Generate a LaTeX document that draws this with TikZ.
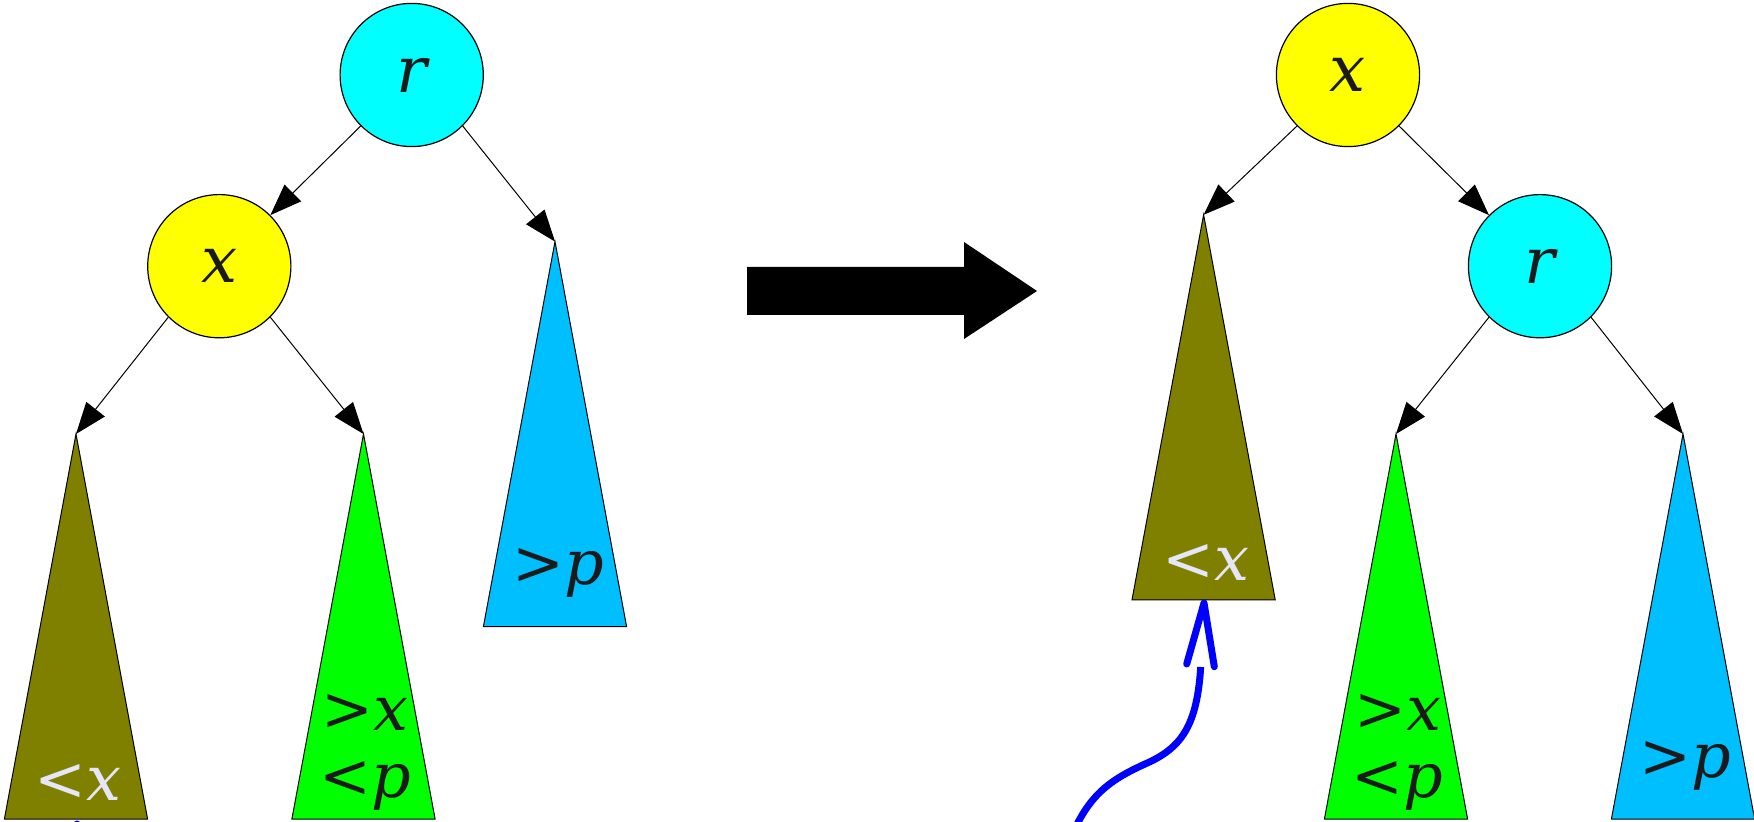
\documentclass[tikz,border=0pt]{standalone}
\usepackage{fontspec}
\setmainfont{DejaVu Serif}
\usetikzlibrary{arrows.meta}
\definecolor{cyanc}{HTML}{00FFFF}
\definecolor{yellowc}{HTML}{FFFF00}
\definecolor{olivec}{HTML}{808000}
\definecolor{greenc}{HTML}{00FF00}
\definecolor{bluec}{HTML}{00BFFF}
\definecolor{txtdark}{HTML}{1A1A1A}
\definecolor{txtlight}{HTML}{E6E6FA}
\definecolor{curveblue}{HTML}{0000FF}
\begin{document}
\begin{tikzpicture}[x=0.5pt,y=-0.5pt,
  circ/.style={circle, draw=black, line width=0.6pt, minimum size=71.6pt, inner sep=0pt,
    font=\fontsize{32}{38}\selectfont\itshape, text=txtdark},
  edgearrow/.style={line width=0.5pt, -{Triangle[length=15.8pt,width=11.7pt]}},
  tri/.style={draw=black, line width=0.5pt},
  lbl/.style={anchor=base, inner sep=0pt, font=\fontsize{31}{38}\selectfont, text=txtdark},
  lbllight/.style={lbl, text=txtlight},
  bluepath/.style={draw=curveblue, line width=3.5pt},
  bluehead/.style={draw=curveblue, line width=3.5pt, line cap=round, line join=round}]
\useasboundingbox (0,0) rectangle (1754,822);

% ---------- left tree ----------
\node[circ, fill=cyanc] (rL) at (411.7,75) {r};
\node[circ, fill=yellowc] (xL) at (219.3,266.2) {x};
\coordinate (apOL) at (76,434);
\coordinate (apGL) at (363.5,434);
\coordinate (apBL) at (555,241.6);
\filldraw[tri, fill=olivec] (apOL) -- ++(-71.6,385) -- ++(143.2,0) -- cycle;
\filldraw[tri, fill=greenc] (apGL) -- ++(-71.6,385) -- ++(143.2,0) -- cycle;
\filldraw[tri, fill=bluec] (apBL) -- ++(-71.6,385) -- ++(143.2,0) -- cycle;
\draw[edgearrow] (rL.south west) -- (xL.north east);
\draw[edgearrow] (rL.south east) -- (apBL);
\draw[edgearrow] (xL.south west) -- (apOL);
\draw[edgearrow] (xL.south east) -- (apGL);
\node[lbllight] (tOL) at (77.6,800) {<\textit{x}};
\node[lbl] (tGL1) at (365,730) {>\textit{x}};
\node[lbl] (tGL2) at (365,797) {<\textit{p}};
\node[lbl] (tBL) at (558,585) {>\textit{p}};

% ---------- big arrow ----------
\fill[black] (747,267) -- (964,267) -- (964,242) -- (1037,291) -- (964,339) -- (964,315) -- (747,315) -- cycle;

% ---------- right tree ----------
\node[circ, fill=yellowc] (xR) at (1348,75) {x};
\node[circ, fill=cyanc] (rR) at (1540,266.2) {r};
\coordinate (apOR) at (1203.6,214.8);
\coordinate (apGR) at (1396,434);
\coordinate (apBR) at (1683,434);
\filldraw[tri, fill=olivec] (apOR) -- ++(-71.6,385) -- ++(143.2,0) -- cycle;
\filldraw[tri, fill=greenc] (apGR) -- ++(-71.6,385) -- ++(143.2,0) -- cycle;
\filldraw[tri, fill=bluec] (apBR) -- ++(-71.6,385) -- ++(143.2,0) -- cycle;
\draw[edgearrow] (xR.south west) -- (apOR);
\draw[edgearrow] (xR.south east) -- (rR.north west);
\draw[edgearrow] (rR.south west) -- (apGR);
\draw[edgearrow] (rR.south east) -- (apBR);
\node[lbllight] (tOR) at (1205.6,581) {<\textit{x}};
\node[lbl] (tGR1) at (1397.5,730) {>\textit{x}};
\node[lbl] (tGR2) at (1397.5,797) {<\textit{p}};
\node[lbl] (tBR) at (1685,777.5) {>\textit{p}};

% ---------- blue curved arrows ----------
\coordinate (tipR) at (1204,603);
\coordinate (ceR) at (1200.7,667);
\coordinate (csR) at (1070,840);
\draw[bluepath] (ceR) .. controls (1197,725) and (1182,748) .. (1145,764)
  .. controls (1110,780) and (1088,795) .. (csR);
\draw[bluehead] (1186.7,664) -- (tipR) -- (1214.3,666.7);
\coordinate (tipL) at (77,824);
\draw[bluehead] (60,888) -- (tipL) -- (88,888);
\end{tikzpicture}
\end{document}
